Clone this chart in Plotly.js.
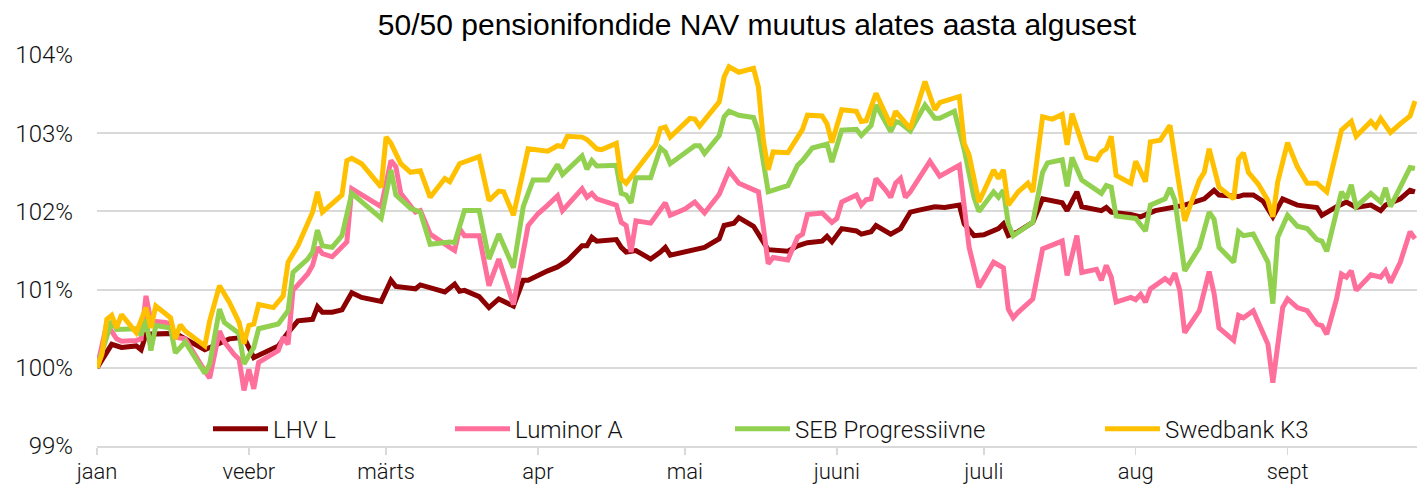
<!DOCTYPE html>
<html>
<head>
<meta charset="utf-8">
<script src="https://cdn.plot.ly/plotly-3.0.1.min.js"></script>
<style>
  html, body { margin: 0; padding: 0; background: #fff; }
  #chart { width: 1417px; height: 489px; }
</style>
</head>
<body>
<div id="chart"></div>
<script>
// days counted from 1 January, values are NAV index in % of the start of year
var lhvDays = [0, 3, 5, 8, 9, 10, 16, 19, 22, 27, 30, 32, 35, 37, 39, 41, 44, 45, 46, 48, 50, 52, 54, 58, 60, 61, 65, 66, 71, 73, 74, 75, 78, 80, 82, 85, 87, 88, 92, 94, 96, 99, 100, 101, 102, 106, 107, 108, 110, 113, 115, 116, 117, 122, 124, 127, 128, 130, 131, 134, 136, 137, 141, 143, 145, 148, 149, 150, 152, 155, 156, 158, 159, 162, 164, 166, 168, 171, 173, 176, 177, 179, 181, 184, 185, 186, 188, 191, 193, 197, 198, 200, 201, 205, 206, 207, 211, 213, 216, 219, 222, 226, 228, 229, 233, 234, 236, 238, 240, 242, 245, 249, 250, 253, 255, 257, 260, 262, 263, 266, 268, 269];
var lhvValues = [100.00, 100.30, 100.26, 100.28, 100.23, 100.43, 100.44, 100.33, 100.23, 100.37, 100.39, 100.13, 100.22, 100.28, 100.45, 100.60, 100.62, 100.78, 100.71, 100.71, 100.74, 100.96, 100.90, 100.85, 101.12, 101.04, 101.01, 101.06, 100.97, 101.07, 100.98, 100.99, 100.91, 100.77, 100.88, 100.79, 101.12, 101.12, 101.24, 101.29, 101.37, 101.56, 101.56, 101.67, 101.62, 101.64, 101.54, 101.48, 101.50, 101.39, 101.48, 101.54, 101.44, 101.50, 101.54, 101.65, 101.82, 101.85, 101.92, 101.81, 101.59, 101.51, 101.49, 101.56, 101.60, 101.62, 101.68, 101.61, 101.78, 101.75, 101.71, 101.74, 101.82, 101.71, 101.78, 101.99, 102.02, 102.06, 102.05, 102.08, 101.84, 101.69, 101.70, 101.78, 101.84, 101.69, 101.74, 101.86, 102.16, 102.11, 102.01, 102.25, 102.06, 102.01, 102.05, 101.99, 101.96, 101.93, 102.01, 102.05, 102.08, 102.16, 102.27, 102.21, 102.19, 102.21, 102.21, 102.13, 101.93, 102.16, 102.08, 102.05, 101.95, 102.06, 102.12, 102.05, 102.08, 102.01, 102.08, 102.16, 102.27, 102.25];

var luminorDays = [0, 2, 4, 5, 8, 9, 10, 11, 14, 15, 16, 18, 22, 23, 25, 26, 28, 29, 30, 31, 32, 33, 37, 38, 39, 40, 43, 44, 45, 46, 48, 51, 52, 58, 60, 61, 62, 65, 66, 68, 72, 73, 74, 75, 78, 80, 82, 85, 88, 90, 92, 94, 95, 97, 99, 100, 101, 102, 106, 107, 108, 109, 110, 113, 115, 116, 117, 120, 122, 124, 127, 129, 131, 132, 135, 136, 137, 138, 141, 143, 144, 145, 148, 150, 151, 152, 155, 156, 157, 158, 159, 161, 162, 163, 164, 165, 166, 170, 172, 176, 177, 178, 180, 183, 185, 186, 187, 188, 191, 193, 197, 198, 200, 201, 204, 205, 206, 207, 208, 211, 212, 213, 214, 215, 218, 219, 220, 221, 222, 225, 227, 228, 229, 232, 233, 234, 236, 239, 240, 242, 243, 245, 247, 249, 250, 251, 253, 254, 255, 256, 257, 260, 262, 263, 264, 266, 268, 269];
var luminorValues = [100.00, 100.56, 100.37, 100.34, 100.35, 100.37, 100.92, 100.60, 100.58, 100.56, 100.39, 100.37, 99.96, 99.87, 100.47, 100.33, 100.17, 100.11, 99.71, 99.98, 99.73, 100.07, 100.22, 100.39, 100.30, 100.99, 101.20, 101.31, 101.54, 101.46, 101.42, 101.61, 102.29, 102.06, 102.65, 102.57, 102.23, 101.99, 102.01, 101.71, 101.54, 101.50, 101.78, 101.69, 101.69, 101.05, 101.39, 100.81, 101.82, 101.97, 102.08, 102.20, 102.01, 102.14, 102.29, 102.18, 102.23, 102.16, 102.08, 101.86, 101.82, 101.48, 101.88, 101.85, 102.01, 102.11, 101.95, 102.03, 102.12, 101.98, 102.22, 102.52, 102.36, 102.33, 102.25, 101.80, 101.33, 101.41, 101.38, 101.67, 101.71, 101.96, 101.98, 101.86, 101.91, 102.12, 102.21, 102.08, 102.15, 102.16, 102.42, 102.27, 102.18, 102.36, 102.42, 102.18, 102.25, 102.64, 102.45, 102.59, 102.01, 101.54, 101.03, 101.35, 101.28, 100.75, 100.64, 100.71, 100.88, 101.52, 101.62, 101.18, 101.69, 101.22, 101.26, 101.12, 101.31, 101.16, 100.84, 100.90, 100.87, 100.94, 100.84, 101.01, 101.14, 101.09, 101.21, 100.99, 100.45, 100.73, 101.23, 100.95, 100.51, 100.35, 100.67, 100.64, 100.73, 100.30, 99.81, 100.77, 100.88, 100.77, 100.73, 100.56, 100.54, 100.43, 100.88, 101.20, 101.16, 101.24, 100.99, 101.19, 101.16, 101.24, 101.09, 101.35, 101.74, 101.65];

var sebDays = [0, 3, 4, 8, 9, 10, 11, 12, 15, 16, 18, 22, 23, 25, 26, 29, 30, 32, 33, 37, 39, 40, 43, 44, 45, 46, 48, 50, 52, 58, 60, 61, 64, 66, 68, 72, 73, 75, 78, 80, 82, 85, 87, 89, 92, 94, 95, 97, 99, 100, 101, 102, 106, 107, 108, 109, 110, 113, 115, 116, 117, 122, 123, 124, 127, 128, 129, 131, 134, 135, 137, 140, 141, 143, 144, 146, 149, 150, 152, 155, 156, 158, 159, 162, 163, 164, 166, 169, 171, 172, 175, 177, 179, 180, 183, 184, 185, 186, 187, 191, 193, 194, 197, 198, 199, 201, 205, 206, 207, 208, 212, 214, 215, 218, 219, 220, 222, 225, 227, 228, 229, 232, 233, 234, 236, 239, 240, 241, 243, 245, 247, 249, 250, 251, 253, 254, 255, 256, 257, 260, 262, 263, 264, 266, 268, 269];
var sebValues = [100.00, 100.60, 100.49, 100.50, 100.42, 100.62, 100.22, 100.54, 100.51, 100.19, 100.33, 99.93, 100.05, 100.75, 100.58, 100.44, 100.05, 100.26, 100.50, 100.56, 100.73, 101.22, 101.39, 101.48, 101.76, 101.56, 101.54, 101.69, 102.23, 101.91, 102.53, 102.21, 102.04, 101.99, 101.58, 101.61, 101.60, 102.01, 102.01, 101.39, 101.71, 101.28, 102.06, 102.40, 102.40, 102.60, 102.47, 102.59, 102.71, 102.54, 102.65, 102.58, 102.59, 102.23, 102.21, 102.11, 102.43, 102.43, 102.81, 102.76, 102.61, 102.84, 102.84, 102.74, 102.97, 103.21, 103.28, 103.23, 103.20, 103.02, 102.25, 102.31, 102.33, 102.59, 102.65, 102.81, 102.86, 102.63, 103.04, 103.05, 102.97, 103.10, 103.36, 103.02, 103.15, 103.13, 103.03, 103.36, 103.19, 103.19, 103.28, 102.79, 102.18, 102.00, 102.25, 102.18, 102.27, 101.84, 101.69, 101.86, 102.50, 102.62, 102.66, 102.32, 102.69, 102.40, 102.23, 102.33, 102.31, 101.94, 101.91, 101.75, 102.08, 102.16, 102.30, 102.14, 101.24, 101.54, 101.99, 101.90, 101.54, 101.35, 101.74, 101.69, 101.71, 101.35, 100.82, 101.67, 101.95, 101.81, 101.78, 101.64, 101.62, 101.49, 101.97, 102.25, 102.16, 102.34, 102.06, 102.23, 102.12, 102.30, 102.06, 102.32, 102.56, 102.55];

var swedDays = [0, 1, 2, 3, 4, 5, 8, 10, 11, 12, 15, 16, 17, 18, 22, 23, 25, 27, 29, 30, 31, 32, 33, 36, 38, 39, 41, 44, 45, 46, 48, 50, 51, 52, 54, 58, 59, 60, 62, 64, 66, 68, 71, 72, 74, 76, 78, 80, 82, 83, 85, 88, 90, 92, 94, 95, 96, 99, 100, 102, 103, 106, 107, 108, 114, 115, 116, 117, 121, 122, 123, 127, 128, 129, 131, 134, 135, 136, 137, 138, 141, 143, 144, 145, 148, 149, 150, 152, 155, 156, 157, 159, 162, 163, 164, 166, 169, 171, 172, 176, 177, 178, 180, 183, 184, 185, 186, 188, 190, 191, 193, 195, 197, 198, 199, 202, 204, 205, 206, 207, 208, 211, 212, 214, 215, 217, 219, 220, 222, 225, 226, 227, 228, 229, 232, 233, 234, 235, 237, 239, 240, 241, 243, 245, 247, 249, 251, 254, 256, 257, 260, 261, 262, 264, 266, 268, 269];
var swedValues = [100.00, 100.17, 100.62, 100.67, 100.51, 100.68, 100.45, 100.77, 100.51, 100.79, 100.64, 100.37, 100.55, 100.47, 100.28, 100.60, 101.05, 100.84, 100.58, 100.31, 100.54, 100.56, 100.81, 100.77, 100.92, 101.35, 101.56, 101.99, 102.25, 101.99, 102.10, 102.21, 102.65, 102.68, 102.61, 102.31, 102.95, 102.87, 102.61, 102.50, 102.52, 102.18, 102.42, 102.38, 102.61, 102.66, 102.70, 102.14, 102.26, 102.25, 101.95, 102.80, 102.78, 102.77, 102.84, 102.83, 102.96, 102.95, 102.92, 102.80, 102.79, 102.87, 102.42, 102.36, 102.85, 103.06, 103.08, 102.95, 103.19, 103.18, 103.09, 103.40, 103.72, 103.85, 103.78, 103.83, 103.59, 102.91, 102.53, 102.76, 102.75, 102.95, 103.05, 103.23, 103.22, 103.12, 102.88, 103.30, 103.28, 103.15, 103.16, 103.51, 103.10, 103.28, 103.21, 103.06, 103.66, 103.30, 103.39, 103.47, 102.87, 102.72, 102.12, 102.53, 102.42, 102.53, 102.08, 102.25, 102.36, 102.25, 103.21, 103.18, 103.24, 102.85, 103.25, 102.69, 102.66, 102.76, 102.80, 102.96, 102.46, 102.36, 102.64, 102.38, 102.89, 102.91, 103.10, 102.70, 101.88, 102.40, 102.50, 102.80, 102.53, 102.31, 102.16, 102.67, 102.75, 102.50, 102.35, 102.14, 101.93, 102.38, 102.88, 102.57, 102.36, 102.36, 102.25, 103.04, 103.15, 102.96, 103.15, 103.08, 103.19, 103.01, 103.12, 103.22, 103.41];

var monthStarts = ["2019-01-01", "2019-02-01", "2019-03-01", "2019-04-01", "2019-05-01", "2019-06-01", "2019-07-01", "2019-08-01", "2019-09-01"];
var monthLabels = ["jaan", "veebr", "märts", "apr", "mai", "juuni", "juuli", "aug", "sept"];
var yTicks = [99, 100, 101, 102, 103, 104];

function toDate(d) {
  return new Date(Date.UTC(2019, 0, 1 + d)).toISOString().slice(0, 10);
}

var GRID = "#d9d9d9";
var FONT = "Roboto, 'Liberation Sans', sans-serif";

function line(name, days, values, color, legendId) {
  return {
    x: days.map(toDate),
    y: values,
    type: "scatter",
    mode: "lines",
    name: name,
    legend: legendId,
    line: { color: color, width: 5, shape: "linear" },
    hoverinfo: "x+y+name",
  };
}

var data = [
  line("LHV L", lhvDays, lhvValues, "#8b0000", "legend"),
  line("Luminor A", luminorDays, luminorValues, "#ff6f9c", "legend2"),
  line("SEB Progressiivne", sebDays, sebValues, "#92d050", "legend3"),
  line("Swedbank K3", swedDays, swedValues, "#ffc000", "legend4"),
];

function legendAt(px) {
  return {
    x: (px - 97) / 1320,
    xanchor: "left",
    y: 0.043,
    yanchor: "middle",
    orientation: "h",
    bgcolor: "rgba(0,0,0,0)",
    itemwidth: 55,
    font: { family: FONT, size: 24, color: "#111", weight: 300 },
  };
}

var layout = {
  width: 1417,
  height: 489,
  margin: { l: 97, r: 0, t: 55, b: 43 },
  paper_bgcolor: "white",
  plot_bgcolor: "white",
  showlegend: true,
  title: {
    text: "50/50 pensionifondide NAV muutus alates aasta algusest",
    font: { family: "'Liberation Sans', Arial, sans-serif", size: 30, color: "#000" },
    x: 0.5,
    xref: "paper",
    y: 0.95,
    yanchor: "middle",
  },
  xaxis: {
    type: "date",
    range: ["2019-01-01", "2019-09-27 10:00"],
    tickvals: monthStarts,
    ticktext: monthLabels,
    ticks: "outside",
    ticklen: 7,
    tickwidth: 1.5,
    tickcolor: GRID,
    ticklabelstandoff: -2,
    showgrid: false,
    showline: true,
    linecolor: GRID,
    linewidth: 2,
    zeroline: false,
    tickfont: { family: FONT, size: 22, color: "#111", weight: 300 },
  },
  yaxis: {
    range: [99, 104],
    tickvals: yTicks,
    ticktext: yTicks.map(function (v) { return v + "%"; }),
    showgrid: true,
    gridcolor: GRID,
    gridwidth: 2,
    zeroline: false,
    showline: false,
    ticks: "",
    ticklabelstandoff: 23,
    tickfont: { family: FONT, size: 24, color: "#111", weight: 300 },
  },
  legend: legendAt(208),
  legend2: legendAt(450),
  legend3: legendAt(730),
  legend4: legendAt(1100),
};

Plotly.newPlot("chart", data, layout, { displayModeBar: false, staticPlot: true });
</script>
</body>
</html>
